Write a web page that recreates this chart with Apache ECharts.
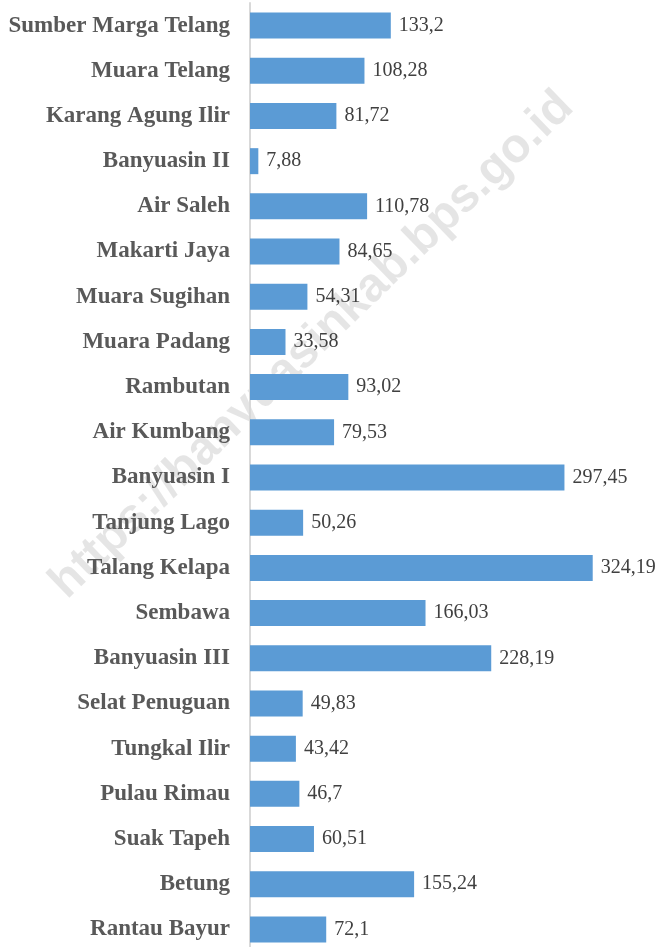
<!DOCTYPE html>
<html>
<head>
<meta charset="utf-8">
<style>
  html, body { margin: 0; padding: 0; background: #fff; }
  #chart { width: 662px; height: 947px; }
</style>
</head>
<body>
<div id="chart"></div>
<script src="https://cdn.jsdelivr.net/npm/echarts@6/dist/echarts.min.js"></script>
<script>
// kecamatan, dari atas ke bawah
var kecamatan = [
  'Sumber Marga Telang', 'Muara Telang', 'Karang Agung Ilir', 'Banyuasin II',
  'Air Saleh', 'Makarti Jaya', 'Muara Sugihan', 'Muara Padang', 'Rambutan',
  'Air Kumbang', 'Banyuasin I', 'Tanjung Lago', 'Talang Kelapa', 'Sembawa',
  'Banyuasin III', 'Selat Penuguan', 'Tungkal Ilir', 'Pulau Rimau',
  'Suak Tapeh', 'Betung', 'Rantau Bayur'
];
var nilai = [
  133.2, 108.28, 81.72, 7.88, 110.78, 84.65, 54.31, 33.58, 93.02,
  79.53, 297.45, 50.26, 324.19, 166.03, 228.19, 49.83, 43.42, 46.7,
  60.51, 155.24, 72.1
];
var watermark = 'https://banyuasinkab.bps.go.id';

var chart = echarts.init(document.getElementById('chart'));

var option = {
  animation: false,
  backgroundColor: '#ffffff',
  grid: { left: 250, top: 3, width: 370, height: 949, outerBoundsMode: 'none' },
  graphic: [{
    type: 'text',
    z: 0,
    x: 312,
    y: 345,
    rotation: 44 * Math.PI / 180,
    style: {
      text: watermark,
      font: 'bold 48px "Liberation Sans", Arial, sans-serif',
      fill: 'rgba(0,0,0,0.10)',
      textAlign: 'center',
      textVerticalAlign: 'middle'
    }
  }],
  xAxis: {
    type: 'value',
    min: 0,
    max: 350,
    show: false
  },
  yAxis: {
    type: 'category',
    data: kecamatan,
    inverse: true,
    axisLine: { show: true, lineStyle: { color: '#d9d9d9', width: 2 } },
    axisTick: { show: false },
    axisLabel: {
      margin: 20,
      color: '#595959',
      fontFamily: '"Liberation Serif", serif',
      fontWeight: 'bold',
      fontSize: 23
    }
  },
  series: [{
    type: 'bar',
    data: nilai,
    barWidth: 26,
    z: 3,
    itemStyle: { color: '#5b9bd5' },
    label: {
      show: true,
      position: 'right',
      distance: 8,
      color: '#404040',
      fontFamily: '"Liberation Serif", serif',
      fontSize: 20,
      formatter: function (p) { return String(p.value).replace('.', ','); }
    }
  }]
};

chart.setOption(option);
</script>
</body>
</html>
